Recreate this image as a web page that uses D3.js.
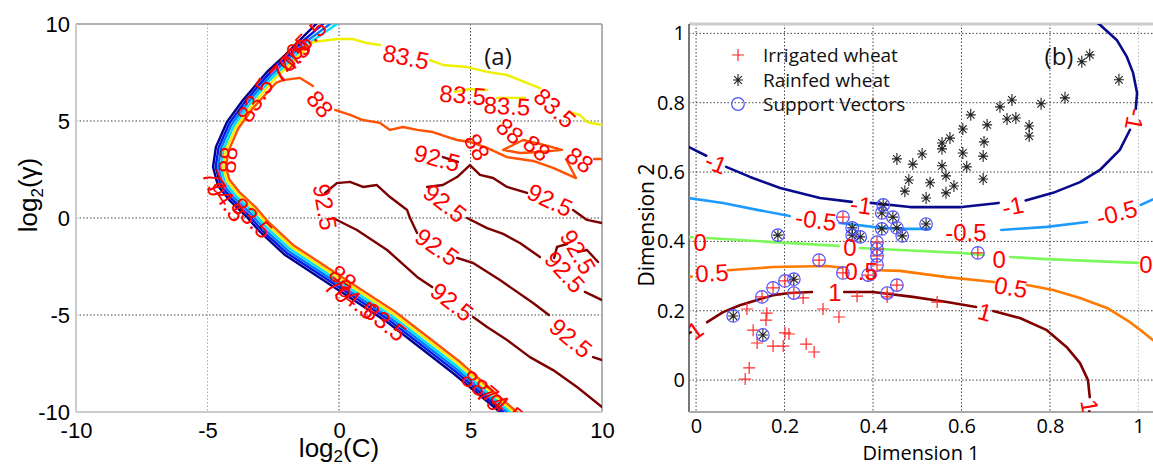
<!DOCTYPE html>
<html><head><meta charset="utf-8">
<script src="https://cdn.jsdelivr.net/npm/d3@7"></script>
<style>body{margin:0;background:#fff}svg{display:block}</style>
</head><body><svg id="c" width="1153" height="468"></svg>
<script>
// ---------------- Panel (a): grid-search accuracy contours (log2 C, log2 gamma) ----------------
const aTicks = [-10, -5, 0, 5, 10];
const aGrid = [-5, 0, 5];
// band of low-accuracy contours along the left boundary
const cA_navy = [[-0.87,10.0],[-1.48,9.18],[-2.05,8.40],[-2.74,7.53],[-3.65,6.08],[-4.26,4.95],[-4.68,3.66],[-4.79,2.63],[-4.60,1.65],[-4.14,0.88],[-3.50,0.05],[-3.00,-0.72],[-2.05,-1.91],[-0.72,-3.09],[1.83,-5.36],[4.33,-7.99],[6.12,-10.0]];
const cA_blue = [[-0.61,10.0],[-1.41,9.08],[-1.98,8.31],[-2.67,7.43],[-3.57,6.00],[-4.17,4.88],[-4.58,3.62],[-4.69,2.63],[-4.51,1.72],[-4.07,0.97],[-3.43,0.14],[-2.94,-0.62],[-1.99,-1.80],[-0.66,-2.98],[1.89,-5.25],[4.40,-7.88],[6.25,-10.0]];
const cA_dodger = [[-0.34,10.0],[-1.35,8.99],[-1.92,8.22],[-2.60,7.34],[-3.49,5.92],[-4.09,4.81],[-4.49,3.58],[-4.59,2.63],[-4.43,1.78],[-4.00,1.06],[-3.36,0.24],[-2.87,-0.53],[-1.93,-1.70],[-0.60,-2.88],[1.94,-5.14],[4.45,-7.77],[6.38,-10.0]];
const cA_cyan = [[-0.08,10.0],[-1.27,8.89],[-1.84,8.12],[-2.53,7.24],[-3.42,5.84],[-4.00,4.74],[-4.39,3.54],[-4.49,2.63],[-4.34,1.85],[-3.93,1.15],[-3.29,0.34],[-2.80,-0.43],[-1.87,-1.59],[-0.54,-2.77],[2.00,-5.04],[4.51,-7.67],[6.51,-10.0]];
// 83.5 contour (yellow), split where labels sit
const cA_yellow = [
  [[10.0,4.79],[9.43,4.95],[9.16,5.31],[8.78,5.46]],
  [[7.64,6.70],[6.88,7.11],[6.39,7.37],[5.63,7.53],[4.87,7.78],[3.95,7.89],[3.46,8.14]],
  [[1.56,8.92],[1.06,9.02],[0.49,9.23],[-0.08,9.23],[-0.99,9.07],[-1.21,8.80],[-1.78,8.03],[-2.46,7.15],[-3.34,5.75],[-3.92,4.68],[-4.30,3.51],[-4.40,2.63],[-4.26,1.92],[-3.86,1.25],[-3.22,0.43],[-2.73,-0.33],[-1.81,-1.49],[-0.49,-2.67],[2.06,-4.93],[4.57,-7.56],[6.64,-10.0]],
  [[4.41,6.50],[4.98,6.65],[5.63,6.60]],
  [[6.01,6.19],[7.07,6.19]]
];
// 88 contour (orange)
const cA_orange = [
  [[10.0,3.04],[9.70,3.04]],
  [[8.63,3.04],[9.01,2.06],[8.14,2.58],[7.38,2.94],[6.39,3.14],[5.63,3.61],[4.98,3.92],[4.49,4.02],[4.11,4.18],[3.57,4.43],[2.97,4.54],[2.43,4.69],[1.94,4.54],[1.56,4.90],[0.91,5.05],[0.42,5.31],[-0.15,5.57]],
  [[-0.99,6.80],[-1.48,7.22],[-2.13,7.11],[-2.40,6.96],[-3.27,5.67],[-3.83,4.61],[-4.20,3.46],[-4.30,2.63],[-4.17,1.98],[-3.79,1.34],[-3.15,0.53],[-2.67,-0.23],[-1.75,-1.39],[-0.43,-2.56],[2.12,-4.82],[4.63,-7.45],[6.76,-10.0]],
  [[6.24,3.51],[7.00,4.02],[7.83,3.76],[8.48,3.51],[7.64,3.40],[6.88,3.35],[6.24,3.51]]
];
// 92.5 contours (dark red)
const cA_darkred = [
  [[10.0,-7.32],[9.66,-7.17]],
  [[7.98,-5.00],[7.38,-4.38],[6.12,-3.20],[5.10,-2.32],[4.49,-2.06]],
  [[2.97,-0.77],[2.70,0.0],[2.59,0.41],[1.94,1.08],[1.44,1.70],[0.91,1.60],[0.42,1.86],[-0.08,1.80],[-0.53,1.29]],
  [[-0.23,0.0],[0.68,-0.62],[1.83,-1.65],[2.97,-3.04],[3.54,-3.56]],
  [[5.10,-5.10],[5.63,-5.62],[6.39,-6.29],[7.26,-7.17],[8.14,-7.84],[9.05,-8.71],[10.0,-9.74]],
  [[10.0,-0.26],[9.43,-0.10],[8.90,0.41]],
  [[7.15,1.29],[6.39,1.60],[5.86,2.06],[5.36,2.22],[4.98,2.73],[4.49,2.11],[3.95,1.70],[3.35,1.60]],
  [[4.87,0.0],[5.63,-0.52],[6.24,-0.82],[6.88,-1.29],[7.64,-2.01]],
  [[9.35,-3.81],[10.0,-4.23]],
  [[3.95,3.14],[4.52,2.89]],
  [[8.18,-2.06],[8.29,-1.49],[8.67,-1.34]],
  [[9.09,-1.75],[9.43,-1.65],[9.85,-2.27]]
];
// contour labels: text, log2C, log2gamma, angle
const labelsA = [
  ["83.5",2.55,8.30,12],["83.5",4.71,6.34,5],["83.5",6.39,5.77,3],["83.5",8.21,5.67,42],
  ["88",-0.72,5.88,50],["88",6.50,4.48,40],["88",7.53,3.61,40],["88",9.16,2.99,35],["88",5.25,3.66,60],
  ["92.5",3.73,3.09,15],["92.5",8.02,0.93,25],["92.5",4.03,0.77,38],["92.5",-0.53,0.57,80],
  ["92.5",3.73,-1.49,35],["92.5",4.30,-4.33,38],["92.5",8.82,-6.19,40],["92.5",8.59,-2.78,48],["92.5",9.09,-1.75,60],
  ["74.5",-1.86,8.04,-48],["70",-2.13,7.73,-48],["79",-1.56,8.56,-48],["65.5",-1.25,9.18,-45],["83.5",-3.19,6.08,-58],
  ["88",-4.22,2.99,-85],["79",-4.75,1.80,70],["74.5",-4.26,0.93,55],["83.5",-3.31,0.0,45],
  ["88",0.15,-3.09,38],["79",-0.04,-3.71,38],["74.5",0.61,-4.23,38],["83.5",1.75,-5.36,38],
  ["88",5.17,-8.51,40],["79",5.74,-9.28,40],["74.5",6.24,-9.64,40]
];

// ---------------- Panel (b): SVM decision function ----------------
const bTicks = [0, 0.2, 0.4, 0.6, 0.8, 1];
const bNeg1 = [
  [[-0.016,0.672],[0.023,0.647]],
  [[0.068,0.615],[0.122,0.586],[0.190,0.554],[0.280,0.525],[0.352,0.514]],
  [[0.395,0.511],[0.484,0.499],[0.601,0.499],[0.684,0.511]],
  [[0.745,0.518],[0.807,0.540],[0.868,0.571],[0.913,0.606],[0.958,0.664],[0.981,0.722]],
  [[0.994,0.782],[0.997,0.828],[0.988,0.886],[0.974,0.932],[0.951,0.981],[0.913,1.025],[0.895,1.04]]
];
const bNeg05 = [
  [[-0.016,0.525],[0.061,0.511],[0.138,0.491],[0.212,0.473]],
  [[0.325,0.453],[0.400,0.442],[0.461,0.436],[0.529,0.436]],
  [[0.690,0.433],[0.793,0.442],[0.884,0.456]],
  [[1.005,0.505],[1.04,0.525]]
];
const bZero = [
  [[-0.016,0.413],[-0.008,0.412]],
  [[0.025,0.410],[0.174,0.398],[0.322,0.387]],
  [[0.370,0.381],[0.461,0.375],[0.597,0.367],[0.650,0.361]],
  [[0.710,0.355],[0.793,0.349],[0.942,0.341],[1.000,0.338]]
];
const bPos05 = [
  [[-0.016,0.297],[-0.010,0.299]],
  [[0.072,0.317],[0.174,0.326],[0.296,0.329],[0.330,0.324]],
  [[0.413,0.317],[0.461,0.315],[0.567,0.297],[0.674,0.283]],
  [[0.748,0.274],[0.807,0.260],[0.868,0.237],[0.929,0.208],[0.981,0.167],[1.010,0.139],[1.04,0.108]]
];
const bPos1 = [
  [[-0.016,0.136],[-0.012,0.138]],
  [[0.025,0.167],[0.061,0.196],[0.099,0.216],[0.138,0.231],[0.174,0.245],[0.212,0.251],[0.262,0.254]],
  [[0.335,0.254],[0.400,0.254],[0.490,0.240],[0.567,0.225],[0.633,0.211]],
  [[0.672,0.199],[0.732,0.179],[0.793,0.144],[0.838,0.095],[0.868,0.049],[0.886,0.000],[0.890,-0.049]],
  [[0.889,-0.090],[0.888,-0.11]]
];
const labelsB = [
  ["-1",0.045,0.626,22],["-1",0.373,0.505,8],["-1",0.716,0.502,-12],["-1",0.992,0.752,100],
  ["-0.5",0.271,0.462,8],["-0.5",0.610,0.427,0],["-0.5",0.951,0.482,-15],
  ["0",0.009,0.398,0],["0",0.348,0.381,0],["0",0.685,0.349,0],["0",1.017,0.333,0],
  ["0.5",0.036,0.309,-3],["0.5",0.373,0.312,0],["0.5",0.712,0.268,10],
  ["1",-0.002,0.144,-35],["1",0.314,0.254,0],["1",0.653,0.196,15],["1",0.890,-0.075,80]
];
const irrigated = [[0.111,0.003],[0.120,0.035],[0.115,0.205],[0.160,0.193],[0.158,0.173],[0.129,0.144],[0.138,0.107],[0.174,0.098],[0.197,0.098],[0.201,0.136],[0.210,0.133],[0.249,0.104],[0.267,0.081],[0.287,0.205],[0.323,0.182],[0.242,0.237],[0.364,0.242],[0.432,0.240],[0.545,0.225]];
const rainfed = [[0.890,0.938],[0.872,0.918],[0.956,0.866],[0.834,0.814],[0.780,0.797],[0.714,0.808],[0.687,0.788],[0.723,0.756],[0.703,0.753],[0.753,0.733],[0.753,0.704],[0.658,0.736],[0.621,0.765],[0.603,0.724],[0.574,0.698],[0.556,0.684],[0.556,0.667],[0.651,0.687],[0.603,0.655],[0.511,0.652],[0.649,0.646],[0.454,0.638],[0.490,0.623],[0.556,0.618],[0.612,0.615],[0.565,0.589],[0.649,0.580],[0.481,0.577],[0.529,0.569],[0.583,0.560],[0.472,0.545],[0.565,0.540],[0.520,0.525]];
const svIrrigated = [[0.149,0.240],[0.174,0.266],[0.201,0.286],[0.221,0.251],[0.278,0.346],[0.332,0.470],[0.332,0.309],[0.389,0.303],[0.409,0.398],[0.409,0.378],[0.409,0.358],[0.409,0.332],[0.432,0.251],[0.454,0.274],[0.637,0.367]];
const svRainfed = [[0.185,0.418],[0.084,0.185],[0.151,0.130],[0.221,0.291],[0.353,0.439],[0.353,0.418],[0.371,0.413],[0.423,0.505],[0.420,0.482],[0.445,0.470],[0.454,0.439],[0.466,0.416],[0.420,0.436],[0.520,0.450]];
const legendItems = ["Irrigated wheat", "Rainfed wheat", "Support Vectors"];

// ---------------- drawing ----------------
const svg = d3.select('#c');
const FA = "'Liberation Sans', Arial, sans-serif";
const FB = "'Open Sans', 'Liberation Sans', sans-serif";

function drawSegs(g, segs, color, line, w) {
  g.selectAll(null).data(segs).enter().append('path')
    .attr('d', line).attr('fill', 'none').attr('stroke', color)
    .attr('stroke-width', w).attr('stroke-linejoin', 'round').attr('stroke-linecap', 'round');
}
function drawLabels(g, labels, x, y, size) {
  g.selectAll(null).data(labels).enter().append('text')
    .attr('transform', d => `translate(${x(d[1])},${y(d[2])}) rotate(${d[3]})`)
    .attr('text-anchor', 'middle').attr('dominant-baseline', 'central')
    .attr('font-family', FA).attr('font-size', size).attr('fill', '#ff0000')
    .text(d => d[0]);
}

// ===== Panel A =====
const xA = d3.scaleLinear().domain([-10, 10]).range([76, 602]);
const yA = d3.scaleLinear().domain([-10, 10]).range([412, 24]);
const defs = svg.append('defs');
defs.append('clipPath').attr('id', 'clipA').append('rect')
  .attr('x', xA(-10)).attr('y', yA(10)).attr('width', xA(10) - xA(-10)).attr('height', yA(-10) - yA(10));
const gA = svg.append('g');
gA.selectAll(null).data(aGrid).enter().append('line')
  .attr('x1', d => xA(d)).attr('x2', d => xA(d)).attr('y1', yA(10)).attr('y2', yA(-10))
  .attr('stroke', d => d === -5 ? '#aaa' : '#444').attr('stroke-width', 1).attr('stroke-dasharray', '1.5,2');
gA.selectAll(null).data(aGrid).enter().append('line')
  .attr('y1', d => yA(d)).attr('y2', d => yA(d)).attr('x1', xA(-10)).attr('x2', xA(10))
  .attr('stroke', '#444').attr('stroke-width', 1).attr('stroke-dasharray', '1.5,2');
// frame
gA.append('line').attr('x1', xA(-10)).attr('x2', xA(10)).attr('y1', yA(10)).attr('y2', yA(10)).attr('stroke', '#999').attr('stroke-width', 1.5);
gA.append('line').attr('x1', xA(10)).attr('x2', xA(10)).attr('y1', yA(10)).attr('y2', yA(-10)).attr('stroke', '#999').attr('stroke-width', 1.5);
gA.append('line').attr('x1', xA(-10)).attr('x2', xA(-10)).attr('y1', yA(10)).attr('y2', yA(-10)).attr('stroke', '#ccc').attr('stroke-width', 2);
gA.append('line').attr('x1', xA(-10)).attr('x2', xA(10)).attr('y1', yA(-10)).attr('y2', yA(-10)).attr('stroke', '#ccc').attr('stroke-width', 2);

const lineA = d3.line().x(d => xA(d[0])).y(d => yA(d[1]));
const cgA = gA.append('g').attr('clip-path', 'url(#clipA)');
drawSegs(cgA, [cA_navy], '#00008c', lineA, 2.4);
drawSegs(cgA, [cA_blue], '#0018e8', lineA, 2.4);
drawSegs(cgA, [cA_dodger], '#0078ff', lineA, 2.4);
drawSegs(cgA, [cA_cyan], '#00e0f8', lineA, 2.4);
drawSegs(cgA, cA_yellow, '#eef000', lineA, 2.4);
drawSegs(cgA, cA_orange, '#ff5200', lineA, 2.4);
drawSegs(cgA, cA_darkred, '#7c0000', lineA, 2.4);
drawLabels(cgA, labelsA, xA, yA, 24);

const axLA = gA.append('g').attr('transform', `translate(${xA(-10)},0)`)
  .call(d3.axisLeft(yA).tickValues(aTicks).tickSize(0).tickPadding(6).tickFormat(d3.format('d')));
const axBA = gA.append('g').attr('transform', `translate(0,${yA(-10)})`)
  .call(d3.axisBottom(xA).tickValues(aTicks).tickSize(0).tickPadding(10).tickFormat(d3.format('d')));
[axLA, axBA].forEach(a => { a.select('.domain').remove(); a.selectAll('text').attr('font-family', FA).attr('font-size', 22).attr('fill', '#000'); });
axLA.selectAll('text').text(d => d < 0 ? '-' + Math.abs(d) : d);
axBA.selectAll('text').text(d => d < 0 ? '-' + Math.abs(d) : d);

const xl = gA.append('text').attr('x', xA(0)).attr('y', 457).attr('text-anchor', 'middle')
  .attr('font-family', FA).attr('font-size', 26).attr('fill', '#000');
xl.append('tspan').text('log');
xl.append('tspan').attr('font-size', 17).attr('dy', 5).text('2');
xl.append('tspan').attr('dy', -5).text('(C)');
const yl = gA.append('text').attr('transform', 'translate(37,195) rotate(-90)').attr('text-anchor', 'middle')
  .attr('font-family', FA).attr('font-size', 26).attr('fill', '#000');
yl.append('tspan').text('log');
yl.append('tspan').attr('font-size', 17).attr('dy', 6).text('2');
yl.append('tspan').attr('dy', -6).text('(γ)');
gA.append('text').attr('x', 498).attr('y', 55).attr('text-anchor', 'middle').attr('dominant-baseline', 'central')
  .attr('font-family', FB).attr('font-size', 24).attr('fill', '#111').text('(a)');

// ===== Panel B =====
const xB = d3.scaleLinear().domain([-0.016, 1.033]).range([689, 1153]);
const yB = d3.scaleLinear().domain([-0.092, 1.027]).range([412, 24]);
defs.append('clipPath').attr('id', 'clipB').append('rect')
  .attr('x', 689).attr('y', 24).attr('width', 464).attr('height', 388);
const gB = svg.append('g');
gB.selectAll(null).data(bTicks).enter().append('line')
  .attr('x1', d => xB(d)).attr('x2', d => xB(d)).attr('y1', yB(1.027)).attr('y2', yB(-0.092))
  .attr('stroke', d => d === 1 ? '#bbb' : '#444').attr('stroke-width', 1).attr('stroke-dasharray', '1.5,2');
gB.selectAll(null).data(bTicks).enter().append('line')
  .attr('y1', d => yB(d)).attr('y2', d => yB(d)).attr('x1', xB(-0.016)).attr('x2', xB(1.033))
  .attr('stroke', '#444').attr('stroke-width', 1).attr('stroke-dasharray', '1.5,2');
gB.append('line').attr('x1', 689).attr('x2', 1153).attr('y1', 24).attr('y2', 24).attr('stroke', '#ccc').attr('stroke-width', 3);
gB.append('line').attr('x1', 689).attr('x2', 689).attr('y1', 24).attr('y2', 412).attr('stroke', '#777').attr('stroke-width', 2);
gB.append('line').attr('x1', 689).attr('x2', 1153).attr('y1', 412).attr('y2', 412).attr('stroke', '#aaa').attr('stroke-width', 2);

const lineB = d3.line().x(d => xB(d[0])).y(d => yB(d[1]));
const cgB = gB.append('g').attr('clip-path', 'url(#clipB)');
drawSegs(cgB, bNeg1, '#0a0a8c', lineB, 2.6);
drawSegs(cgB, bNeg05, '#1e9bff', lineB, 2.6);
drawSegs(cgB, bZero, '#7cf85a', lineB, 2.6);
drawSegs(cgB, bPos05, '#ff7a00', lineB, 2.6);
drawSegs(cgB, bPos1, '#800000', lineB, 2.6);

function plus(g, pts, color) {
  g.selectAll(null).data(pts).enter().append('path')
    .attr('d', d => { const x = xB(d[0]), y = yB(d[1]); return `M${x-6},${y}H${x+6}M${x},${y-6}V${y+6}`; })
    .attr('stroke', color).attr('stroke-width', 1.2).attr('fill', 'none');
}
function star(g, pts) {
  g.selectAll(null).data(pts).enter().append('path')
    .attr('d', d => { const x = xB(d[0]), y = yB(d[1]); return `M${x-5},${y}H${x+5}M${x},${y-6}V${y+6}M${x-3.8},${y-3.8}L${x+3.8},${y+3.8}M${x-3.8},${y+3.8}L${x+3.8},${y-3.8}`; })
    .attr('stroke', '#222').attr('stroke-width', 1.1).attr('fill', 'none');
}
const pg = cgB.append('g');
plus(pg, irrigated, '#ff2a2a');
plus(pg, svIrrigated, '#ff2a2a');
star(pg, rainfed);
star(pg, svRainfed);
pg.selectAll(null).data(svIrrigated.concat(svRainfed)).enter().append('circle')
  .attr('cx', d => xB(d[0])).attr('cy', d => yB(d[1])).attr('r', 6.3)
  .attr('fill', 'none').attr('stroke', '#5050ff').attr('stroke-width', 1.2);
drawLabels(cgB, labelsB, xB, yB, 24);

const axLB = gB.append('g').attr('transform', 'translate(689,0)')
  .call(d3.axisLeft(yB).tickValues(bTicks).tickSize(0).tickPadding(4).tickFormat(d => d === 0 || d === 1 ? String(d) : d.toFixed(1)));
const axBB = gB.append('g').attr('transform', 'translate(0,412)')
  .call(d3.axisBottom(xB).tickValues(bTicks).tickSize(0).tickPadding(7).tickFormat(d => d === 0 || d === 1 ? String(d) : d.toFixed(1)));
[axLB, axBB].forEach(a => { a.select('.domain').remove(); a.selectAll('text').attr('font-family', FB).attr('font-size', 20).attr('fill', '#000'); });

gB.append('text').attr('x', 921).attr('y', 460).attr('text-anchor', 'middle')
  .attr('font-family', FB).attr('font-size', 20).attr('fill', '#000').text('Dimension 1');
gB.append('text').attr('transform', 'translate(654,225) rotate(-90)').attr('text-anchor', 'middle')
  .attr('font-family', FB).attr('font-size', 21).attr('fill', '#000').text('Dimension 2');
gB.append('text').attr('x', 1059).attr('y', 55).attr('text-anchor', 'middle').attr('dominant-baseline', 'central')
  .attr('font-family', FB).attr('font-size', 24).attr('fill', '#111').text('(b)');

// legend
const lg = gB.append('g');
const ly = [55, 80, 104];
lg.selectAll(null).data(legendItems).enter().append('text')
  .attr('x', 763).attr('y', (d, i) => ly[i]).attr('dominant-baseline', 'central')
  .attr('font-family', FB).attr('font-size', 19).attr('fill', '#111').text(d => d);
lg.append('path').attr('d', `M732,${ly[0]}H744M738,${ly[0]-6}V${ly[0]+6}`).attr('stroke', '#ff2a2a').attr('stroke-width', 1.2);
lg.append('path').attr('d', `M733,${ly[1]}H743M738,${ly[1]-6}V${ly[1]+6}M734.2,${ly[1]-3.8}L741.8,${ly[1]+3.8}M734.2,${ly[1]+3.8}L741.8,${ly[1]-3.8}`).attr('stroke', '#222').attr('stroke-width', 1.1);
lg.append('circle').attr('cx', 738).attr('cy', ly[2]).attr('r', 6.3).attr('fill', 'none').attr('stroke', '#5050ff').attr('stroke-width', 1.2);
</script></body></html>
